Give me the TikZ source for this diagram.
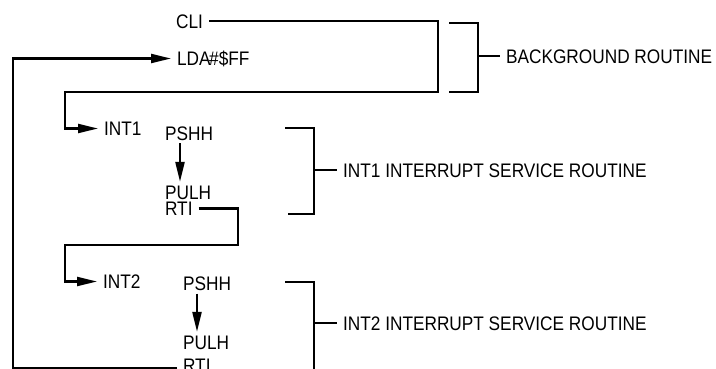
\documentclass[tikz,border=0pt]{standalone}
\usepackage{fontspec}
\setmainfont{Liberation Sans}[FakeStretch=0.88]
\usepackage{tikz}
\usetikzlibrary{arrows.meta,positioning}

\begin{document}
\begin{tikzpicture}[x=1pt,y=-1pt,line width=2.2pt,>={Triangle[length=20pt,width=9pt]}]
		\tikzset{code/.style={anchor=west,inner xsep=5pt,inner ysep=2pt,text height=14pt,text depth=0pt,
				font=\fontsize{19.6}{21}\selectfont}}
		\useasboundingbox (0,0) rectangle (716,368);
		\clip (0,0) rectangle (716,368);

		% background routine
		\node[code] (cli)	at (170,21)	{CLI};
		\node[code] (lda)	at (171,58.5)	{LDA\kern-1.5pt\#\$FF};
		\node[code] (bg)	at (500,56)	{BACKGROUND ROUTINE};

		% int1 service routine
		\node[code] (int1)	at (98,128.5)	{INT1};
		\node[code] (pshhA)	at (159,133)	{PSHH};
		\node[code] (pulhA)	at (159,192)	{PULH};
		\node[code] (rtiA)	at (159,208.5)	{RTI};
		\node[code] (isrA)	at (337,170)	{INT1 INTERRUPT SERVICE ROUTINE};

		% int2 service routine
		\node[code] (int2)	at (97,281.5)	{INT2};
		\node[code] (pshhB)	at (177,283.5)	{PSHH};
		\node[code] (pulhB)	at (177,342)	{PULH};
		\node[code] (rtiB)	at (177,365.5)	{RTI};
		\node[code] (isrB)	at (337,323)	{INT2 INTERRUPT SERVICE ROUTINE};

		\coordinate (edge)	at (13,0);
		\coordinate (bgturn)	at (438,92);
		\coordinate (bgback)	at (65,92);
		\coordinate (rtiturn)	at (238,245);
		\coordinate (rtiback)	at (65,245);

		% flow
		\draw[->] (cli.east) -| (bgturn) -- (bgback) |- (int1.west);
		\draw[->] ([xshift=21pt]pshhA.south west) -- ([xshift=21pt]pulhA.north west);
		\draw[->] (rtiA.east) -| (rtiturn) -- (rtiback) |- (int2.west);
		\draw[->] ([xshift=20pt]pshhB.south west) -- ([xshift=20pt]pulhB.north west);
		\draw[->] ([yshift=-2.5pt]rtiB.west) -| (lda.west -| edge) -- (lda.west);

		% brackets
		\draw (449,23) -| (478,92) -- (449,92);
		\draw (478,56) -- (bg.west);
		\draw (285,128) -| (314,214) -- (288,214);
		\draw (314,170) -- (isrA.west);
		\draw (285,282) -| (314,375);
		\draw (314,323) -- (isrB.west);
\end{tikzpicture}
\end{document}
